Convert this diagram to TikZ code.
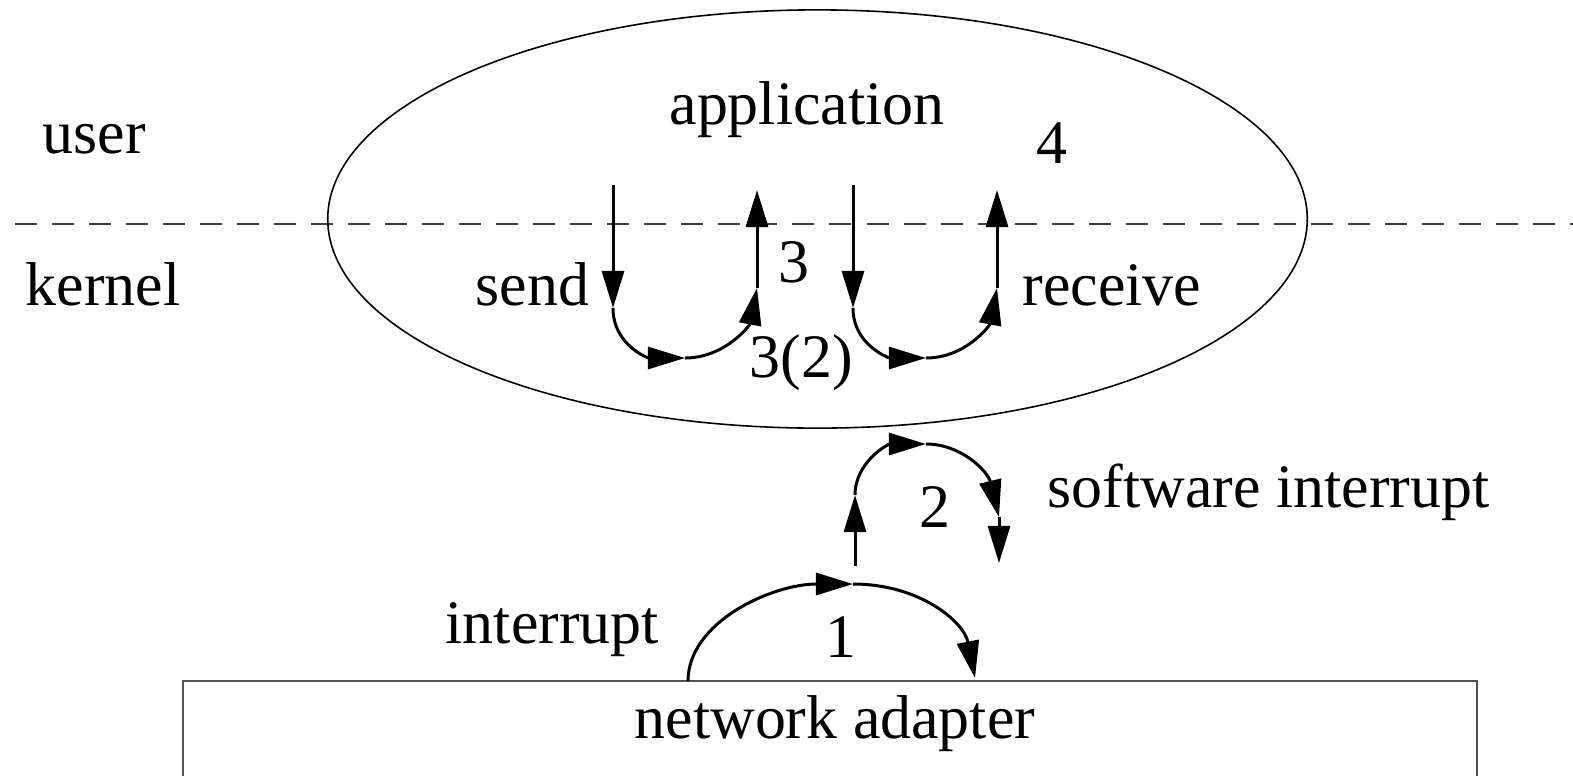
\documentclass[tikz,border=0pt]{standalone}
\usepackage{fontspec}
\setmainfont{Liberation Serif}
\usetikzlibrary{arrows.meta,shapes.geometric}
\begin{document}
\begin{tikzpicture}[x=0.01cm,y=-0.01cm,
  lbl/.style={anchor=base west, inner sep=0pt, font=\fontsize{17.6}{21}\selectfont},
  flow/.style={line width=0.85pt, -{Triangle[length=3.7mm,width=2.2mm]}},
  border/.style={line width=0.7pt, draw=black!68},
]
\useasboundingbox (0,0) rectangle (1573,775);

% user / kernel boundary
\coordinate (bl) at (15,224);
\coordinate (br) at (1573,224);
\draw[line width=0.5pt, draw=black!75, dash pattern=on 2.2mm off 1.5mm] (bl) -- (br);

% application space
\node[draw, ellipse, line width=0.45pt, minimum width=9.79cm, minimum height=4.18cm, inner sep=0pt] (app) at (817.5,219) {};

% network adapter box (runs off the bottom edge)
\coordinate (nbl) at (183,776);
\coordinate (ntl) at (183,681);
\coordinate (ntr) at (1477,681);
\coordinate (nbr) at (1477,776);
\draw[border] (nbl) -- (ntl) -- (ntr) -- (nbr);

% labels
\node[lbl] (user) at (42,153) {user};
\node[lbl] (kernel) at (25,305) {kernel};
\node[lbl, anchor=base] (application) at (807,124) {application};
\node[lbl] (four) at (1036,163) {4};
\node[lbl] (send) at (475,305) {send};
\node[lbl] (three) at (778,282) {3};
\node[lbl] (receive) at (1022,305) {receive};
\node[lbl] (threetwo) at (749,377) {3(2)};
\node[lbl] (swint) at (1047,507) {software interrupt};
\node[lbl] (two) at (919,527) {2};
\node[lbl] (interrupt) at (445,643) {interrupt};
\node[lbl] (one) at (825,657) {1};
\node[lbl] (adapter) at (634,738) {network adapter};

% send path
\coordinate (s0) at (613,185);
\coordinate (s1) at (613,308);
\coordinate (s2) at (685,358);
\coordinate (s3) at (757,288);
\coordinate (s4) at (757,190);
\draw[flow] (s0) -- (s1);
\draw[flow] (s1) .. controls (613,345) and (648,358) .. (s2);
\draw[flow] (s2) .. controls (725,358) and (750,325) .. (s3);
\draw[flow] (s3) -- (s4);

% receive path
\coordinate (r0) at (853,185);
\coordinate (r1) at (853,308);
\coordinate (r2) at (926,358);
\coordinate (r3) at (997,288);
\coordinate (r4) at (997,190);
\draw[flow] (r0) -- (r1);
\draw[flow] (r1) .. controls (853,345) and (889,358) .. (r2);
\draw[flow] (r2) .. controls (966,358) and (990,325) .. (r3);
\draw[flow] (r3) -- (r4);

% hardware interrupt
\coordinate (h0) at (688,681);
\coordinate (h1) at (853,584);
\coordinate (h2) at (975,678);
\draw[flow] (h0) .. controls (688,622) and (772,584) .. (h1);
\draw[flow] (h1) .. controls (920,584) and (964,622) .. (h2);

% software interrupt
\coordinate (w0) at (855,566);
\coordinate (w1) at (855,495);
\coordinate (w2) at (926,444);
\coordinate (w3) at (999,517);
\coordinate (w4) at (999,563);
\draw[flow] (w0) -- (w1);
\draw[flow] (w1) .. controls (855,462) and (888,444) .. (w2);
\draw[flow] (w2) .. controls (962,444) and (988,472) .. (w3);
\draw[flow] (w3) -- (w4);
\end{tikzpicture}
\end{document}
